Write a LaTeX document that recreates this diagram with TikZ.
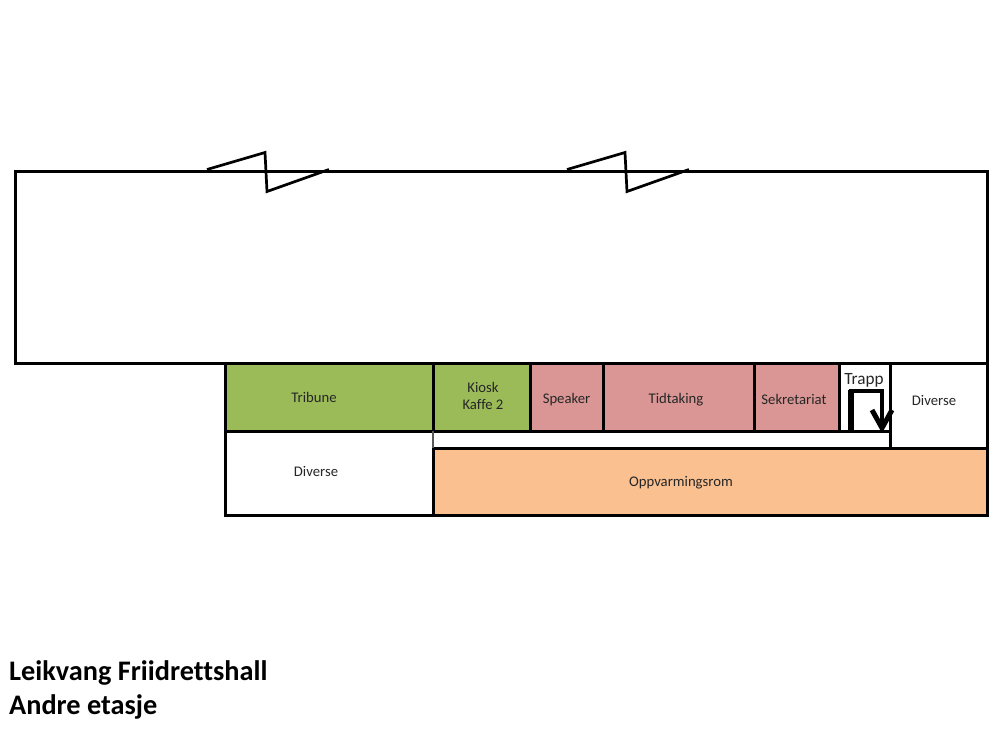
\documentclass[tikz,border=0pt]{standalone}
\usepackage{fontspec}
\setmainfont[Ligatures=NoCommon]{Carlito}
\definecolor{tribunegreen}{HTML}{9BBB59}
\definecolor{roompink}{HTML}{D99694}
\definecolor{warmorange}{HTML}{FAC090}
\tikzset{
wall/.style={line width=3pt},
label/.style={font=\fontsize{14.7}{17}\selectfont,align=center,text=black!85},
}
\begin{document}
\begin{tikzpicture}[x=1pt,y=-1pt, line join=miter]
\useasboundingbox (0,0) rectangle (1002,732);
% rooms
\fill[tribunegreen] (225,364) rectangle (530,431);
\fill[roompink] (530,364) rectangle (839,431);
\fill[warmorange] (433,448) rectangle (987,515);
% hall
\draw[wall] (15.5,171) rectangle (987,363.5);
\foreach \s in {0,360}
\draw[shift={(\s,0)},line width=2.7pt] (207,169.5)--(265,152.5)--(267,191.5)--(329,169.5);
% walls
\draw[wall] (225,363)--(225,515)--(987,515)--(987,363);
\draw[wall] (225,431)--(890,431) (433,448)--(987,448);
\draw[wall] (433,363)--(433,431) (433,448)--(433,515);
\draw[line width=2pt,black!65] (433,431)--(433,448);
\foreach \x in {530,603,754,839,890}
\draw[wall] (\x,363)--(\x,431);
\draw[wall] (890,431)--(890,448);
% stairs
\draw[line width=5.5pt] (851,431)--(851,390);
\draw[line width=4pt] (848.5,390.5)--(882,390.5)--(882,428);
\draw[line width=5pt] (872,410)--(882,428)--(892,410);
\node[label] (tribune) at (314,397) {Tribune};
\node[label] (kiosk) at (483,395.5) {Kiosk\\Kaffe 2};
\node[label] (speaker) at (566.5,400) {Speaker};
\node[label] (tidtaking) at (676,400) {Tidtaking};
\node[label] (sekretariat) at (794,399.5) {Sekretariat};
\node[label,font=\fontsize{17.2}{20}\selectfont] (trapp) at (864,380) {Trapp};
\node[label] (diverseA) at (934,400.5) {Diverse};
\node[label] (diverseB) at (316,471.5) {Diverse};
\node[label] (oppvarming) at (681,482.5) {Oppvarmingsrom};
\node[font=\fontsize{28.3}{34}\selectfont\bfseries,align=left,anchor=north west,inner sep=0pt] (title) at (9,660) {Leikvang Friidrettshall\\Andre etasje};
\end{tikzpicture}
\end{document}
